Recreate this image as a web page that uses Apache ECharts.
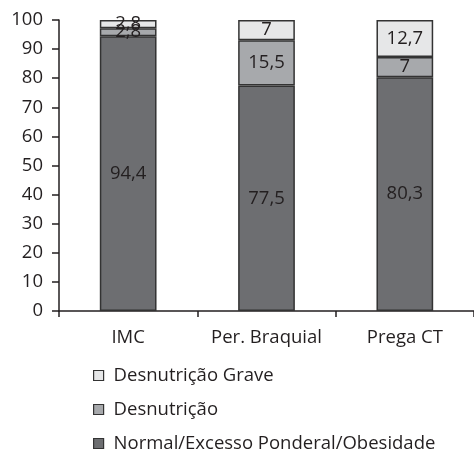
<!DOCTYPE html>
<html>
<head>
<meta charset="utf-8">
<script src="https://cdn.jsdelivr.net/npm/echarts@6/dist/echarts.min.js"></script>
<style>
  html, body { margin: 0; padding: 0; background: #fff; }
  #chart { width: 474px; height: 452px; }
</style>
</head>
<body>
<div id="chart"></div>
<script>
// categorias e valores (%)
var categories = ['IMC', 'Per. Braquial', 'Prega CT'];
var normalVals = [94.4, 77.5, 80.3];
var desnutVals = [2.8, 15.5, 7];
var graveVals = [2.8, 7, 12.7];
var yTicks = [0, 10, 20, 30, 40, 50, 60, 70, 80, 90, 100];
var legendNames = ['Desnutrição Grave', 'Desnutrição', 'Normal/Excesso Ponderal/Obesidade'];

var FONT = 'Open Sans';
var FS = 18.5;
var INK = '#231f20';

function fmt(p) {
    return String(p.value).replace('.', ',');
}

function barSeries(name, data, color) {
    return {
        name: name,
        type: 'bar',
        stack: 'total',
        barWidth: '41%',
        data: data,
        itemStyle: { color: color, borderColor: '#333', borderWidth: 1.5 },
        label: {
            show: true,
            position: 'inside',
            formatter: fmt,
            color: INK,
            fontFamily: FONT,
            fontSize: FS
        }
    };
}

// uma legenda por linha
var legends = legendNames.map(function (n, i) {
    return {
        left: 88,
        top: 361 + i * 34,
        itemWidth: 10,
        itemHeight: 10,
        icon: 'rect',
        data: [n],
        textStyle: { color: INK, fontFamily: FONT, fontSize: FS, padding: [0, 0, 0, 5] },
        itemStyle: { borderColor: '#333', borderWidth: 1.2 }
    };
});

var chart = echarts.init(document.getElementById('chart'));
var option = {
    animation: false,
    grid: { left: 59, right: -3, top: 20, bottom: 141 },
    legend: legends,
    xAxis: {
        type: 'category',
        data: categories,
        axisLine: { lineStyle: { color: INK, width: 1.5 } },
        axisTick: { show: true, length: 6, lineStyle: { color: INK, width: 1.5 } },
        axisLabel: { color: INK, fontFamily: FONT, fontSize: FS, margin: 17, interval: 0 }
    },
    yAxis: {
        type: 'value',
        min: yTicks[0],
        max: yTicks[yTicks.length - 1],
        interval: 10,
        splitLine: { show: false },
        axisLine: { show: true, lineStyle: { color: INK, width: 1.5 } },
        axisTick: { show: true, length: 7, lineStyle: { color: INK, width: 1.5 } },
        axisLabel: { color: INK, fontFamily: FONT, fontSize: FS, margin: 16 }
    },
    series: [
        barSeries('Normal/Excesso Ponderal/Obesidade', normalVals, '#6d6e71'),
        barSeries('Desnutrição', desnutVals, '#a7a9ac'),
        barSeries('Desnutrição Grave', graveVals, '#e6e7e8')
    ]
};
chart.setOption(option);
</script>
</body>
</html>
